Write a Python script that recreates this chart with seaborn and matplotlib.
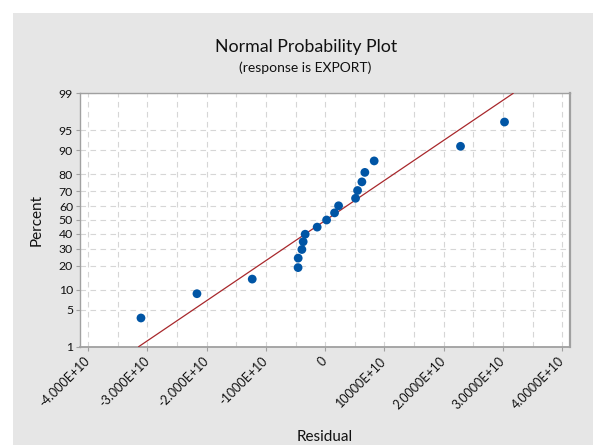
import numpy as np
import matplotlib
matplotlib.use("Agg")
import matplotlib.pyplot as plt
import seaborn as sns
from matplotlib.patches import Rectangle
from statistics import NormalDist

# ---- data ----
residuals_e10 = [-3.106, -2.162, -1.230, -0.457, -0.455, -0.393, -0.371, -0.337, -0.135,
                 0.024, 0.158, 0.226, 0.512, 0.546, 0.619, 0.669, 0.826, 2.282, 3.024]
percents = [3.6, 8.8, 13.9, 19.1, 24.2, 29.4, 34.5, 39.7, 44.8, 50.0,
            55.2, 60.3, 65.5, 70.6, 75.8, 80.9, 86.1, 91.2, 96.4]
x_ticks_e10 = [-4, -3, -2, -1, 0, 1, 2, 3, 4]
x_tick_labels = ["-4.000E+10", "-3.000E+10", "-2.000E+10", "-1000E+10", "0",
                 "10000E+10", "2.0000E+10", "3.0000E+10", "4.0000E+10"]
y_ticks = [1, 5, 10, 20, 30, 40, 50, 60, 70, 80, 90, 95, 99]
y_tick_labels = [str(v) for v in y_ticks]

residuals = np.array(residuals_e10) * 1e10

nd = NormalDist()
_ppf = np.vectorize(nd.inv_cdf, otypes=[float])
_cdf = np.vectorize(nd.cdf, otypes=[float])


def fwd(p):
    p = np.clip(np.asarray(p, dtype=float) / 100.0, 1e-9, 1 - 1e-9)
    return _ppf(p)


def inv(z):
    return _cdf(np.asarray(z, dtype=float)) * 100.0


# fitted normal line from the residuals
mu = residuals.mean()
sd = residuals.std(ddof=1)
line_pct = np.array([1.0, 99.0])
line_x = mu + sd * fwd(line_pct)

sns.set_style("white")
plt.rcParams["font.family"] = ["Lato", "DejaVu Sans"]

W, H = 593, 445
fig = plt.figure(figsize=(W / 100, H / 100), dpi=100)
fig.patch.set_facecolor("white")
fig.add_artist(Rectangle((13 / W, 0), (W - 13) / W, (H - 13) / H, transform=fig.transFigure,
                         facecolor="#e6e6e6", edgecolor="none", zorder=-10))

ax = fig.add_axes([80 / W, 1 - 346.7 / H, 490 / W, 253.4 / H])
ax.set_facecolor("white")
ax.set_yscale("function", functions=(fwd, inv))

sns.lineplot(x=line_x, y=line_pct, ax=ax, color="#a8282c", linewidth=0.9, sort=False, zorder=3)
sns.scatterplot(x=residuals, y=percents, ax=ax, color="#0055a5", s=40, edgecolor="none", zorder=4)

ax.set_xlim(-4.134e10, 4.128e10)
ax.set_ylim(1, 99)

ax.set_xticks(np.array(x_ticks_e10) * 1e10)
ax.set_xticklabels(x_tick_labels, rotation=45, ha="right", va="center", rotation_mode="anchor")
ax.set_xticks(np.arange(-3.5, 4.0, 1.0) * 1e10, minor=True)
ax.set_yticks(y_ticks)
ax.set_yticklabels(y_tick_labels)
ax.yaxis.set_minor_locator(matplotlib.ticker.NullLocator())

ax.tick_params(axis="x", which="major", length=3, width=0.8, color="#a0a0a0", pad=6,
               labelsize=9, labelcolor="#111111", direction="out", bottom=True)
ax.tick_params(axis="x", which="minor", length=0)
ax.tick_params(axis="y", which="major", length=3, width=0.8, color="#a0a0a0", pad=2,
               labelsize=8.8, labelcolor="#111111", direction="out", left=True)

ax.grid(True, which="both", axis="x", color="#d6d6d6", linestyle=(0, (5, 4)), linewidth=0.8)
ax.grid(True, which="major", axis="y", color="#d6d6d6", linestyle=(0, (5, 4)), linewidth=0.8)
ax.set_axisbelow(True)

for side in ["left", "bottom", "top", "right"]:
    ax.spines[side].set_visible(True)
    ax.spines[side].set_color("#a0a0a0")
    ax.spines[side].set_linewidth(1.0)
ax.spines["right"].set_linewidth(1.6)
ax.spines["bottom"].set_linewidth(1.3)

ax.set_xlabel("")
ax.set_ylabel("")
fig.text(37 / W, 1 - 220 / H, "Percent", rotation=90, ha="center", va="center",
         fontsize=11, color="#111111")
fig.text(325 / W, 1 - 441 / H, "Residual", ha="center", va="baseline",
         fontsize=11, color="#111111")

fig.text(306 / W, 1 - 52 / H, "Normal Probability Plot", ha="center", va="baseline",
         fontsize=12.8, color="#111111")
fig.text(305.5 / W, 1 - 71.5 / H, "(response is EXPORT)", ha="center", va="baseline",
         fontsize=10, color="#111111")

fig.savefig("out.png", dpi=100)
